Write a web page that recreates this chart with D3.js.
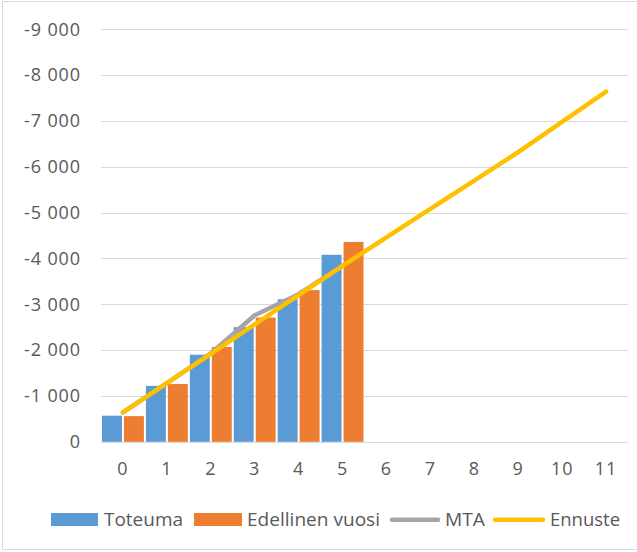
<!DOCTYPE html>
<html><head><meta charset="utf-8">
<script src="https://cdn.jsdelivr.net/npm/d3@7/dist/d3.min.js"></script>
<style>
html,body{margin:0;padding:0;background:#fff;}
svg{display:block;font-family:"Open Sans","Noto Sans",sans-serif;}
</style></head>
<body>
<script>
const categories = ["0","1","2","3","4","5","6","7","8","9","10","11"];
const toteuma = [-570, -1220, -1900, -2500, -3110, -4080];
const edellinen = [-560, -1260, -2070, -2710, -3310, -4360];
const mta = [-640, -1280, -1930, -2760, -3220, -3840];
const ennuste = [-640, -1280, -1920, -2560, -3200, -3840, -4460, -5080, -5700, -6320, -6980, -7640];
const yTicks = [0, -1000, -2000, -3000, -4000, -5000, -6000, -7000, -8000, -9000];
const seriesNames = ["Toteuma", "Edellinen vuosi", "MTA", "Ennuste"];
const colors = {Toteuma:"#5B9BD5", "Edellinen vuosi":"#ED7D31", MTA:"#A5A5A5", Ennuste:"#FFC000"};

const W = 637, H = 552;
const svg = d3.select("body").append("svg").attr("width", W).attr("height", H);

// chart border
svg.append("rect").attr("x", 2.5).attr("y", 1.5).attr("width", W + 10).attr("height", H - 4)
  .attr("fill", "none").attr("stroke", "#D9D9D9").attr("stroke-width", 1);

const x = d3.scaleBand().domain(categories).range([101, 628]).paddingInner(0).paddingOuter(0);
const y = d3.scaleLinear().domain([0, -9000]).range([441.8, 29.3]);

const fmt = v => d3.format(",")(v).replace(/,/g, " ").replace("\u2212", "-");

// gridlines
svg.append("g").selectAll("line").data(yTicks).join("line")
  .attr("x1", 101).attr("x2", 628)
  .attr("y1", d => Math.round(y(d)) + 0.5).attr("y2", d => Math.round(y(d)) + 0.5)
  .attr("stroke", "#D9D9D9").attr("stroke-width", 1.2);

// y axis labels
const yAxis = d3.axisLeft(y).tickValues(yTicks).tickFormat(fmt).tickSize(0).tickPadding(0);
const yg = svg.append("g").attr("transform", "translate(81,0)").call(yAxis);
yg.select(".domain").remove();
yg.selectAll("text").attr("fill", "#595959").style("font-size", "18px").style("letter-spacing", "0.9px")
  .attr("font-family", "'Open Sans','Noto Sans',sans-serif");

// x axis labels
const xAxis = d3.axisBottom(x).tickSize(0).tickPadding(0);
const xg = svg.append("g").attr("transform", "translate(0,462)").call(xAxis);
xg.select(".domain").remove();
xg.selectAll("text").attr("fill", "#595959").style("font-size", "18px").style("letter-spacing", "0.9px")
  .attr("font-family", "'Open Sans','Noto Sans',sans-serif");

// bars
const half = x.bandwidth() / 2;
const barSeries = [toteuma, edellinen];
barSeries.forEach((vals, si) => {
  svg.append("g").selectAll("rect").data(vals).join("rect")
    .attr("x", (d, i) => x(categories[i]) + si * half + 1)
    .attr("width", half - 2)
    .attr("y", d => y(d))
    .attr("height", d => y(0) - y(d))
    .attr("fill", colors[seriesNames[si]]);
});

// lines
const line = d3.line().x((d, i) => x(categories[i]) + x.bandwidth() / 2).y(d => y(d));
svg.append("path").datum(mta).attr("d", line).attr("fill", "none")
  .attr("stroke", colors.MTA).attr("stroke-width", 4.5)
  .attr("stroke-linecap", "round").attr("stroke-linejoin", "round");
svg.append("path").datum(ennuste).attr("d", line).attr("fill", "none")
  .attr("stroke", colors.Ennuste).attr("stroke-width", 4.5)
  .attr("stroke-linecap", "round").attr("stroke-linejoin", "round");

// legend
const lg = svg.append("g").style("font-size", "17.5px").attr("fill", "#595959");
const legendItems = [
  {name:"Toteuma", type:"rect", sx:51, sw:47, tx:104, tw:79},
  {name:"Edellinen vuosi", type:"rect", sx:194, sw:48, tx:247, tw:133},
  {name:"MTA", type:"line", sx:390, sw:50, tx:445, tw:40},
  {name:"Ennuste", type:"line", sx:493, sw:52, tx:550, tw:70}
];
legendItems.forEach(it => {
  if (it.type === "rect") {
    lg.append("rect").attr("x", it.sx).attr("y", 513).attr("width", it.sw).attr("height", 13)
      .attr("fill", colors[it.name]);
  } else {
    lg.append("line").attr("x1", it.sx + 2).attr("x2", it.sx + it.sw - 2).attr("y1", 519.7).attr("y2", 519.7)
      .attr("stroke", colors[it.name]).attr("stroke-width", 4.5).attr("stroke-linecap", "round");
  }
  lg.append("text").attr("x", it.tx).attr("y", 525.5).text(it.name)
    .attr("textLength", it.tw).attr("lengthAdjust", "spacingAndGlyphs");
});
</script>
</body></html>
